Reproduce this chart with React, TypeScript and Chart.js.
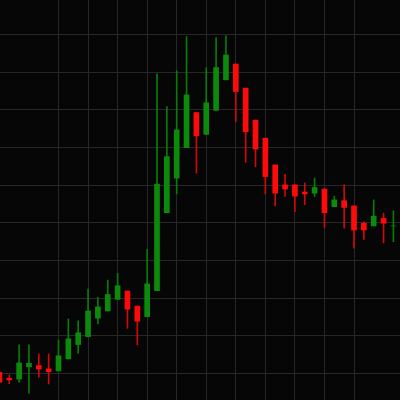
import React, { useEffect, useRef } from "react";
import { Chart, registerables } from "chart.js";

Chart.register(...registerables);

// Candle index positions (x) and OHLC values
const candleIndex: number[] = Array.from({ length: 41 }, (_, i) => i);
const openValues: number[] = [
  10.3, 8.7, 8.5, 11.8, 12.1, 11.2, 10.7, 13.9, 17.7, 19.8,
  24.7, 26.6, 29.7, 31.9, 27.9, 25.1, 32.0, 52.7, 61.9, 70.0,
  79.3, 73.5, 79.9, 88.0, 92.2, 85.8, 77.3, 72.5, 65.4, 60.1,
  60.1, 58.2, 57.9, 59.0, 54.3, 55.9, 54.5, 49.9, 49.2, 51.2,
  49.2,
];
const closeValues: number[] = [
  7.7, 8.3, 12.8, 12.7, 11.2, 10.5, 14.7, 19.2, 20.8, 26.6,
  27.7, 31.0, 33.3, 27.1, 23.9, 33.8, 60.3, 67.6, 74.7, 84.0,
  73.1, 81.9, 91.3, 94.6, 84.9, 74.2, 69.6, 62.3, 57.9, 59.0,
  57.1, 57.7, 59.4, 52.7, 56.1, 54.1, 48.1, 48.1, 51.8, 49.9,
  49.2,
];
const highValues: number[] = [
  10.7, 9.6, 17.6, 17.6, 15.2, 15.2, 18.9, 24.5, 24.0, 32.4,
  30.2, 34.8, 36.6, 31.9, 27.9, 43.0, 89.6, 80.9, 90.4, 99.5,
  79.3, 91.2, 99.2, 99.7, 92.2, 85.8, 77.3, 72.5, 65.4, 62.9,
  60.1, 60.6, 61.9, 59.0, 57.1, 60.1, 54.5, 50.3, 56.1, 52.6,
  53.2,
];
const lowValues: number[] = [
  7.5, 7.3, 7.7, 4.8, 9.0, 7.2, 10.7, 13.9, 15.4, 19.7,
  23.2, 26.6, 29.7, 22.0, 17.6, 25.0, 32.0, 52.7, 57.7, 70.0,
  63.2, 73.5, 79.9, 88.0, 76.9, 66.1, 64.9, 57.7, 54.5, 57.0,
  53.0, 54.8, 57.0, 48.8, 54.3, 48.6, 43.3, 45.6, 49.2, 44.7,
  45.0,
];

const UP = "#0b8a0b";
const DOWN = "#ff0a0a";
const UP_WICK = "#0a7a0a";
const DOWN_WICK = "#d00808";

export default function App() {
  const ref = useRef<HTMLCanvasElement | null>(null);

  useEffect(() => {
    if (!ref.current) return;
    const isUp = candleIndex.map((i) => closeValues[i] >= openValues[i]);
    const bodies = candleIndex.map((i) => ({ x: i, y: [openValues[i], closeValues[i]] }));
    const wicks = candleIndex.map((i) => ({ x: i, y: [lowValues[i], highValues[i]] }));

    const keepMultiples = (step: number) => (scale: any) => {
      scale.ticks = scale.ticks.filter(
        (t: any) => Math.abs(t.value / step - Math.round(t.value / step)) < 1e-6
      );
    };

    const chart = new Chart(ref.current, {
      type: "bar",
      data: {
        datasets: [
          {
            label: "body",
            data: bodies as any,
            backgroundColor: isUp.map((u) => (u ? UP : DOWN)),
            borderWidth: 0,
            barThickness: 5,
            grouped: false,
            order: 0,
          } as any,
          {
            label: "wick",
            data: wicks as any,
            backgroundColor: isUp.map((u) => (u ? UP_WICK : DOWN_WICK)),
            borderWidth: 0,
            barThickness: 1,
            grouped: false,
            order: 1,
          } as any,
        ],
      },
      options: {
        animation: false,
        responsive: true,
        maintainAspectRatio: false,
        layout: { padding: 0 },
        plugins: { legend: { display: false }, tooltip: { enabled: false } },
        scales: {
          x: {
            type: "linear",
            offset: false,
            min: 0.06,
            max: 40.67,
            ticks: { display: false, stepSize: 3 },
            grid: { color: "#26262b", drawTicks: false, lineWidth: 1, offset: false },
            border: { display: false },
            afterBuildTicks: keepMultiples(3),
          },
          y: {
            type: "linear",
            min: 2.96,
            max: 109.2,
            ticks: { display: false, stepSize: 10 },
            grid: { color: "#26262b", drawTicks: false, lineWidth: 1 },
            border: { display: false },
            afterBuildTicks: keepMultiples(10),
          },
        },
      },
    } as any);
    return () => chart.destroy();
  }, []);

  return (
    <div
      style={{
        position: "fixed",
        left: 0,
        top: 0,
        width: 400,
        height: 400,
        background: "#060606",
      }}
    >
      <canvas ref={ref} />
    </div>
  );
}
